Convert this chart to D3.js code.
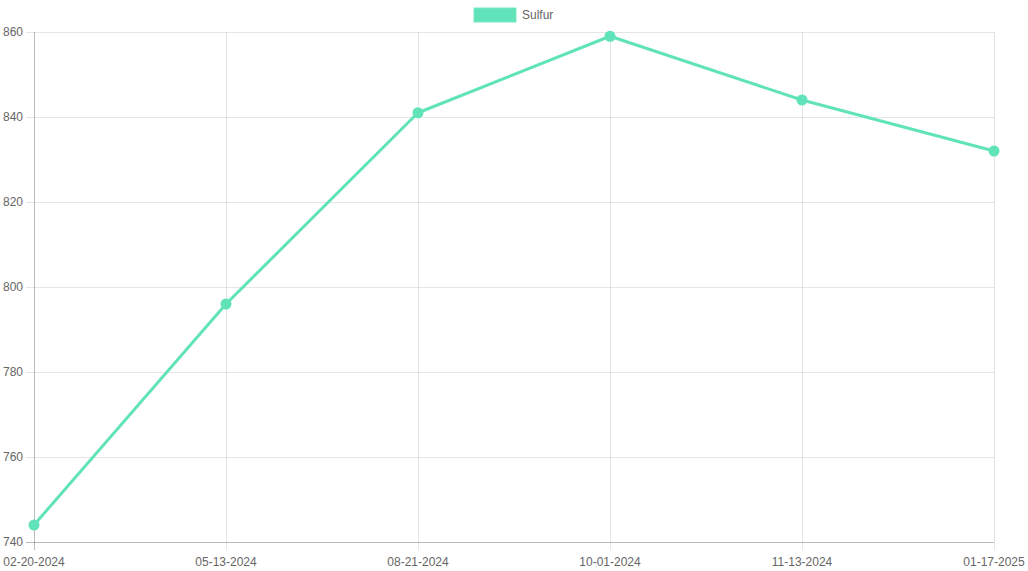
<!DOCTYPE html>
<html><head><meta charset="utf-8">
<script src="https://cdn.jsdelivr.net/npm/d3@7"></script>
<style>body{margin:0;background:#fff}svg{display:block;font-family:"Liberation Sans",Arial,sans-serif}</style>
</head><body><svg id="c" width="1028" height="571"></svg>
<script>
const categories = ["02-20-2024","05-13-2024","08-21-2024","10-01-2024","11-13-2024","01-17-2025"];
const sulfur = [744, 796, 841, 859, 844, 832];
const yTicks = [740, 760, 780, 800, 820, 840, 860];
const seriesName = "Sulfur";
const color = "#61e3ba";

const svg = d3.select("#c");
const L = 34, R = 994, T = 32, B = 542;
const x = d3.scalePoint().domain(categories).range([L, R]);
const y = d3.scaleLinear().domain([740, 860]).range([B, T]);
const grid = "rgba(0,0,0,0.1)";

// grid lines
svg.append("g").selectAll("line").data(yTicks).join("line")
  .attr("x1", L - 8).attr("x2", R).attr("y1", d => y(d) + 0.5).attr("y2", d => y(d) + 0.5)
  .attr("stroke", grid);
svg.append("g").selectAll("line").data(categories).join("line")
  .attr("x1", d => x(d) + 0.5).attr("x2", d => x(d) + 0.5).attr("y1", T).attr("y2", B + 8)
  .attr("stroke", grid);
// axis lines
svg.append("line").attr("x1", L + 0.5).attr("x2", L + 0.5).attr("y1", T).attr("y2", B + 8).attr("stroke", "rgba(0,0,0,0.18)");
svg.append("line").attr("x1", L - 8).attr("x2", R).attr("y1", B + 0.5).attr("y2", B + 0.5).attr("stroke", "rgba(0,0,0,0.18)");

// labels
svg.append("g").selectAll("text").data(yTicks).join("text")
  .attr("x", L - 11).attr("y", d => y(d)).attr("dy", "0.35em")
  .attr("text-anchor", "end").attr("font-size", 12).attr("fill", "#666").text(d => d);
svg.append("g").selectAll("text").data(categories).join("text")
  .attr("x", d => x(d)).attr("y", B + 20).attr("dy", "0.35em")
  .attr("text-anchor", "middle").attr("font-size", 12).attr("fill", "#666").text(d => d);

// line
const line = d3.line().x((d, i) => x(categories[i])).y(d => y(d));
svg.append("path").datum(sulfur).attr("d", line).attr("fill", "none")
  .attr("stroke", color).attr("stroke-width", 3).attr("stroke-linejoin", "round");
svg.append("g").selectAll("circle").data(sulfur).join("circle")
  .attr("cx", (d, i) => x(categories[i])).attr("cy", d => y(d)).attr("r", 5.5).attr("fill", color);

// legend
svg.append("rect").attr("x", 474).attr("y", 8).attr("width", 42).attr("height", 14)
  .attr("fill", color).attr("stroke", "#7aeac6").attr("stroke-width", 1);
svg.append("text").attr("x", 522).attr("y", 15).attr("dy", "0.35em")
  .attr("font-size", 12).attr("fill", "#666").text(seriesName);
</script></body></html>
